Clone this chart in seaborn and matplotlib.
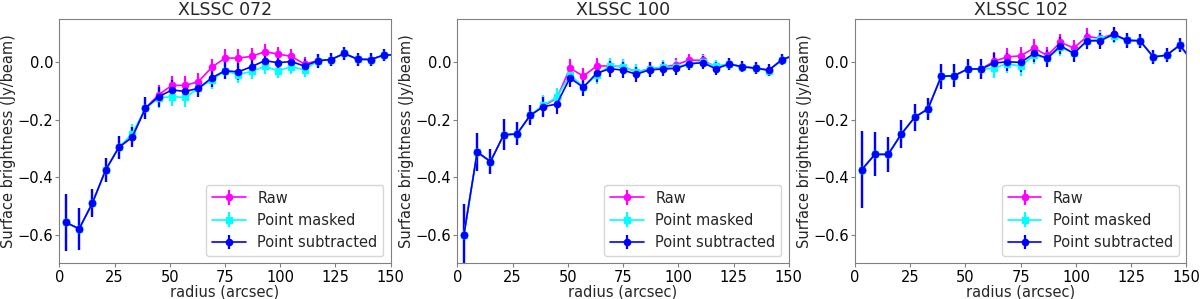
import numpy as np
import pandas as pd
import matplotlib
matplotlib.use('Agg')
import matplotlib.pyplot as plt
import seaborn as sns

# radial bins (arcsec), the last one lies just past the plot edge
radius = [3, 9, 15, 21, 27, 33, 39, 45, 51, 57, 63, 69, 75,
          81, 87, 93, 99, 105, 111, 117, 123, 129, 135, 141, 147, 153]

titles = ['XLSSC 072', 'XLSSC 100', 'XLSSC 102']

# XLSSC 072
raw_072 = [-0.558, -0.580, -0.490, -0.375, -0.296, -0.261, -0.160, -0.113, -0.081, -0.081,
           -0.068, -0.018, 0.014, 0.014, 0.020, 0.036, 0.028, 0.020, -0.007, 0.005,
           0.009, 0.030, 0.010, 0.009, 0.025, 0.025]
masked_072 = [-0.558, -0.580, -0.490, -0.375, -0.296, -0.250, -0.160, -0.125, -0.120, -0.123,
              -0.091, -0.062, -0.030, -0.044, -0.032, -0.015, -0.030, -0.016, -0.027, 0.005,
              0.009, 0.030, 0.010, 0.009, 0.025, 0.025]
sub_072 = [-0.558, -0.580, -0.490, -0.375, -0.296, -0.261, -0.160, -0.120, -0.097, -0.102,
           -0.091, -0.055, -0.030, -0.034, -0.016, 0.005, -0.002, 0.002, -0.014, 0.005,
           0.009, 0.030, 0.010, 0.009, 0.025, 0.025]
err_072 = [0.100, 0.074, 0.050, 0.043, 0.040, 0.036, 0.037, 0.035, 0.033, 0.032,
           0.030, 0.030, 0.030, 0.030, 0.028, 0.026, 0.026, 0.025, 0.024, 0.024,
           0.024, 0.024, 0.022, 0.022, 0.020, 0.020]

# XLSSC 100
raw_100 = [-0.600, -0.313, -0.346, -0.253, -0.250, -0.185, -0.152, -0.126, -0.021, -0.049,
           -0.014, -0.013, -0.016, -0.034, -0.024, -0.018, -0.009, 0.007, 0.006, -0.016,
           -0.007, -0.016, -0.021, -0.028, 0.009, 0.025]
masked_100 = [-0.600, -0.313, -0.346, -0.253, -0.250, -0.185, -0.149, -0.123, -0.044, -0.086,
              -0.046, -0.012, -0.016, -0.034, -0.024, -0.018, -0.018, -0.005, 0.001, -0.014,
              -0.007, -0.016, -0.021, -0.030, 0.009, 0.025]
sub_100 = [-0.600, -0.313, -0.346, -0.253, -0.250, -0.185, -0.155, -0.146, -0.055, -0.088,
           -0.039, -0.023, -0.028, -0.042, -0.027, -0.024, -0.022, -0.006, -0.002, -0.023,
           -0.007, -0.016, -0.021, -0.028, 0.009, 0.025]
err_100 = [0.105, 0.066, 0.043, 0.054, 0.040, 0.035, 0.035, 0.033, 0.032, 0.030,
           0.030, 0.028, 0.028, 0.026, 0.026, 0.024, 0.024, 0.022, 0.022, 0.022,
           0.022, 0.020, 0.020, 0.020, 0.018, 0.018]

# XLSSC 102
raw_102 = [-0.375, -0.321, -0.321, -0.250, -0.192, -0.163, -0.050, -0.047, -0.024, -0.024,
           0.003, 0.018, 0.022, 0.049, 0.023, 0.069, 0.049, 0.089, 0.083, 0.097,
           0.076, 0.074, 0.018, 0.024, 0.059, 0.000]
masked_102 = [-0.375, -0.321, -0.321, -0.250, -0.192, -0.163, -0.050, -0.047, -0.024, -0.024,
              -0.021, -0.005, -0.015, 0.025, 0.013, 0.051, 0.032, 0.074, 0.082, 0.092,
              0.076, 0.074, 0.018, 0.024, 0.059, 0.000]
sub_102 = [-0.375, -0.321, -0.321, -0.250, -0.192, -0.163, -0.050, -0.047, -0.024, -0.024,
           -0.003, 0.001, -0.001, 0.030, 0.013, 0.057, 0.030, 0.074, 0.074, 0.097,
           0.076, 0.074, 0.018, 0.024, 0.059, 0.000]
err_102 = [0.134, 0.077, 0.060, 0.050, 0.047, 0.039, 0.042, 0.040, 0.035, 0.035,
           0.033, 0.032, 0.032, 0.030, 0.030, 0.030, 0.028, 0.028, 0.027, 0.026,
           0.026, 0.025, 0.025, 0.024, 0.024, 0.024]

panels = [
    (raw_072, masked_072, sub_072, err_072),
    (raw_100, masked_100, sub_100, err_100),
    (raw_102, masked_102, sub_102, err_102),
]

sns.set_style('ticks')
plt.rcParams['font.family'] = ['DejaVu Sans']
plt.rcParams['axes.edgecolor'] = '#808080'
plt.rcParams['xtick.color'] = '#808080'
plt.rcParams['ytick.color'] = '#808080'
plt.rcParams['xtick.labelcolor'] = 'black'
plt.rcParams['ytick.labelcolor'] = 'black'

fig = plt.figure(figsize=(12, 2.99), dpi=100)
lefts = [0.0494, 0.3811, 0.7125]
fs = 10.5

for i, (raw, masked, sub, err) in enumerate(panels):
    ax = fig.add_axes([lefts[i], 0.1194, 0.2762, 0.8171])
    ax.errorbar(radius, raw, yerr=err, fmt='-o', color='magenta', ms=4.5, lw=1.2,
                elinewidth=1.6, label='Raw')
    ax.errorbar(radius, masked, yerr=err, fmt='-s', color='cyan', ms=4.5, lw=1.2,
                elinewidth=1.6, label='Point masked')
    ax.errorbar(radius, sub, yerr=err, fmt='-o', color='blue', ms=4.5, lw=1.2,
                elinewidth=1.6, label='Point subtracted')
    ax.set_xlim(0, 150)
    ax.set_ylim(-0.7, 0.15)
    ax.set_xticks([0, 25, 50, 75, 100, 125, 150])
    ax.set_yticks([-0.6, -0.4, -0.2, 0.0])
    ax.tick_params(labelsize=fs, length=3, pad=1.5)
    ax.set_title(titles[i], fontsize=12.5, pad=3)
    ax.set_xlabel('radius (arcsec)', fontsize=fs, labelpad=0)
    ax.set_ylabel('Surface brightness (Jy/beam)', fontsize=fs, labelpad=1)
    ax.legend(loc='lower right', fontsize=fs, handlelength=2.3)

fig.savefig('out.png', dpi=100)
